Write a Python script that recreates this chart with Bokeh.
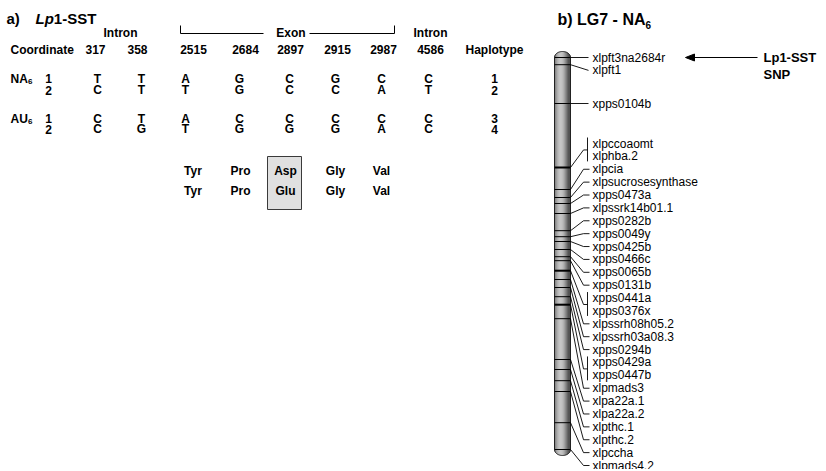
from bokeh.plotting import figure
from bokeh.models import Range1d
from bokeh.core.properties import value
from bokeh.embed import file_html
from bokeh.resources import INLINE
import numpy as np

# ---------------- data : panel a ----------------
coordinates = ["317", "358", "2515", "2684", "2897", "2915", "2987", "4586"]
population = ["NA", "NA", "AU", "AU"]
pop_sub = "6"
allele_no = ["1", "2", "1", "2"]
haplotype_id = ["1", "2", "3", "4"]
hap1 = ["T", "T", "A", "G", "C", "G", "C", "C"]
hap2 = ["C", "T", "T", "G", "C", "C", "A", "T"]
hap3 = ["C", "T", "A", "C", "C", "C", "C", "C"]
hap4 = ["C", "G", "T", "G", "G", "G", "A", "C"]
aa_row1 = ["Tyr", "Pro", "Asp", "Gly", "Val"]
aa_row2 = ["Tyr", "Pro", "Glu", "Gly", "Val"]
aa_changed = [False, False, True, False, False]

# ---------------- data : panel b (LG7 map, cM) ----------------
marker_names = ["xlpft3na2684r", "xlpft1", "xpps0104b", "xlpccoaomt", "xlphba.2",
                "xlpcia", "xlpsucrosesynthase", "xpps0473a", "xlpssrk14b01.1",
                "xpps0282b", "xpps0049y", "xpps0425b", "xpps0466c", "xpps0065b",
                "xpps0131b", "xpps0441a", "xpps0376x", "xlpssrh08h05.2",
                "xlpssrh03a08.3", "xpps0294b", "xpps0429a", "xpps0447b", "xlpmads3",
                "xlpa22a.1", "xlpa22a.2", "xlpthc.1", "xlpthc.2", "xlpccha", "xlpmads4.2"]
marker_cm = [0.0, 1.8, 11.5, 27.5, 27.5, 33.0, 35.0, 36.5, 39.0, 43.3, 44.8, 46.0,
             48.0, 49.8, 50.8, 53.3, 53.3, 55.5, 57.5, 59.8, 61.8, 61.8, 65.3, 75.5,
             78.0, 80.8, 83.5, 91.3, 98.0]
snp_marker = "xlpft3na2684r"

FONT = value("Liberation Sans")

# ---------------- figure (image-pixel coordinates) ----------------
W, H = 824, 469
p = figure(width=W, height=H, x_range=Range1d(0, W), y_range=Range1d(H, 0),
           output_backend="svg", toolbar_location=None, min_border=0,
           x_axis_location=None, y_axis_location=None)
p.grid.visible = False
p.outline_line_color = None
p.background_fill_color = "white"


def txt(x, y, t, size="12px", style="bold", align="center", color="black"):
    p.text(x=x, y=y, text=t, text_font=FONT, text_font_size=size,
           text_font_style=style, text_align=align, text_baseline="middle",
           text_color=color)


# ---------------- panel a ----------------
TITLE_Y = 18
txt([6], [TITLE_Y], ["a)"], size="15px", align="left")
txt([35], [TITLE_Y], ["Lp"], size="15px", style="bold italic", align="left")
txt([53.3], [TITLE_Y], ["1-SST"], size="15px", align="left")

hdr_x = [95, 137, 193, 245, 290, 337, 383, 430]
col_x = [97, 141, 185, 239, 289, 335, 381, 428]
hap_x = 494
HDR_Y = 49
REGION_Y = 32

txt([120, 430], [REGION_Y, REGION_Y], ["Intron", "Intron"])
txt([290.5], [REGION_Y], ["Exon"])
p.multi_line(xs=[[180, 180, 263], [309, 394, 394]],
             ys=[[25, 33, 33], [33, 33, 25]], line_color="black", line_width=1)

txt([10], [HDR_Y], ["Coordinate"], align="left")
txt(hdr_x, [HDR_Y] * len(hdr_x), coordinates)
txt([hap_x], [HDR_Y], ["Haplotype"])

row_y = [78, 89.5, 118, 128.5]
haps = [hap1, hap2, hap3, hap4]
for i, (ry, h) in enumerate(zip(row_y, haps)):
    txt(col_x, [ry] * len(col_x), h)
    txt([48], [ry], [allele_no[i]])
    txt([hap_x], [ry], [haplotype_id[i]])
    if allele_no[i] == "1":
        txt([10], [ry], [population[i]], align="left")
        txt([27.6], [ry + 2.5], [pop_sub], size="8px", align="left")

aa_x = [192.5, 240, 285, 335, 381]
AA_Y1, AA_Y2 = 170, 190
for x, chg in zip(aa_x, aa_changed):
    if chg:
        p.quad(left=x - 18, right=x + 16, top=156, bottom=209,
               fill_color="#e0e0e0", line_color="#3a3a3a", line_width=1)
txt(aa_x, [AA_Y1] * 5, aa_row1)
txt(aa_x, [AA_Y2] * 5, aa_row2)

# ---------------- panel b ----------------
txt([557], [TITLE_Y + 1], ["b) LG7 - NA"], size="16px", align="left")
txt([645], [TITLE_Y + 6], [pop_sub], size="10px", align="left")

CM0_Y, PX_PER_CM = 57, 4.0
band_y = [CM0_Y + c * PX_PER_CM for c in marker_cm]
cx, rx, ry_cap = 562.0, 8.0, 6.0
top_y, bot_y = band_y[0], band_y[-1]

# cylinder shading with vertical strips
nstrip = 16
edges = np.linspace(cx - rx, cx + rx, nstrip + 1)
xs_list, ys_list, cols = [], [], []
for k in range(nstrip):
    xa, xb = edges[k], edges[k + 1]
    xx = np.linspace(xa, xb, 6)
    dy = ry_cap * np.sqrt(np.clip(1 - ((xx - cx) / rx) ** 2, 0, 1))
    xs_list.append(list(xx) + list(xx[::-1]))
    ys_list.append(list(top_y - dy) + list((bot_y + dy)[::-1]))
    t = ((xa + xb) / 2 - cx) / rx          # -1..1
    shade = max(np.cos((t + 0.2) * np.pi / 2.1), 0)
    g = int(70 + 125 * shade ** 1.3)
    cols.append("#%02x%02x%02x" % (g, g, g))
p.patches(xs=xs_list, ys=ys_list, fill_color=cols, line_color=cols, line_width=0.5)

xx = np.linspace(cx - rx, cx + rx, 41)
dy = ry_cap * np.sqrt(np.clip(1 - ((xx - cx) / rx) ** 2, 0, 1))
p.patch(list(xx) + list(xx[::-1]), list(top_y - dy) + list((bot_y + dy)[::-1]),
        fill_color=None, line_color="#222222", line_width=1)

# bands
uniq = sorted(set(band_y))
counts = [band_y.count(b) for b in uniq]
p.segment(x0=[cx - rx] * len(uniq), x1=[cx + rx] * len(uniq), y0=uniq, y1=uniq,
          line_color="black", line_width=[2.0 if c > 1 else 1.0 for c in counts])

# label layout
GAP = 12.88
label_y = []
for i, b in enumerate(band_y):
    if i < 3:
        label_y.append(b if i == 0 else max(b, label_y[-1] + GAP))
    else:
        label_y.append(143 + (i - 3) * GAP)

LBL_X = 592
xr = cx + rx
cxs, cys = [], []
i = 0
n = len(marker_names)
while i < n:
    if i + 1 < n and marker_cm[i + 1] == marker_cm[i]:
        l1, l2 = label_y[i], label_y[i + 1]
        mid = (l1 + l2) / 2
        cxs.append([xr, 583, 587]); cys.append([band_y[i], mid, mid])
        cxs.append([587, 587]); cys.append([l1 - 6, l2 + 5])
        i += 2
    else:
        if i < 3:
            cxs.append([xr, 588]); cys.append([band_y[i], label_y[i]])
        else:
            cxs.append([xr, 583, 589]); cys.append([band_y[i], label_y[i], label_y[i]])
        i += 1
p.multi_line(xs=cxs, ys=cys, line_color="black", line_width=0.9)

txt([LBL_X] * n, label_y, marker_names, size="12px", style="normal", align="left")

# SNP arrow
sy = label_y[marker_names.index(snp_marker)]
p.segment(x0=[692], x1=[757], y0=[sy], y1=[sy], line_color="black", line_width=1.2)
p.patch([685, 694, 694], [sy, sy - 3.5, sy + 3.5], fill_color="black", line_color="black")
txt([763, 763], [sy, sy + 17], ["Lp1-SST", "SNP"], size="13px", align="left")

open("out.html", "w").write(file_html(p, INLINE))
